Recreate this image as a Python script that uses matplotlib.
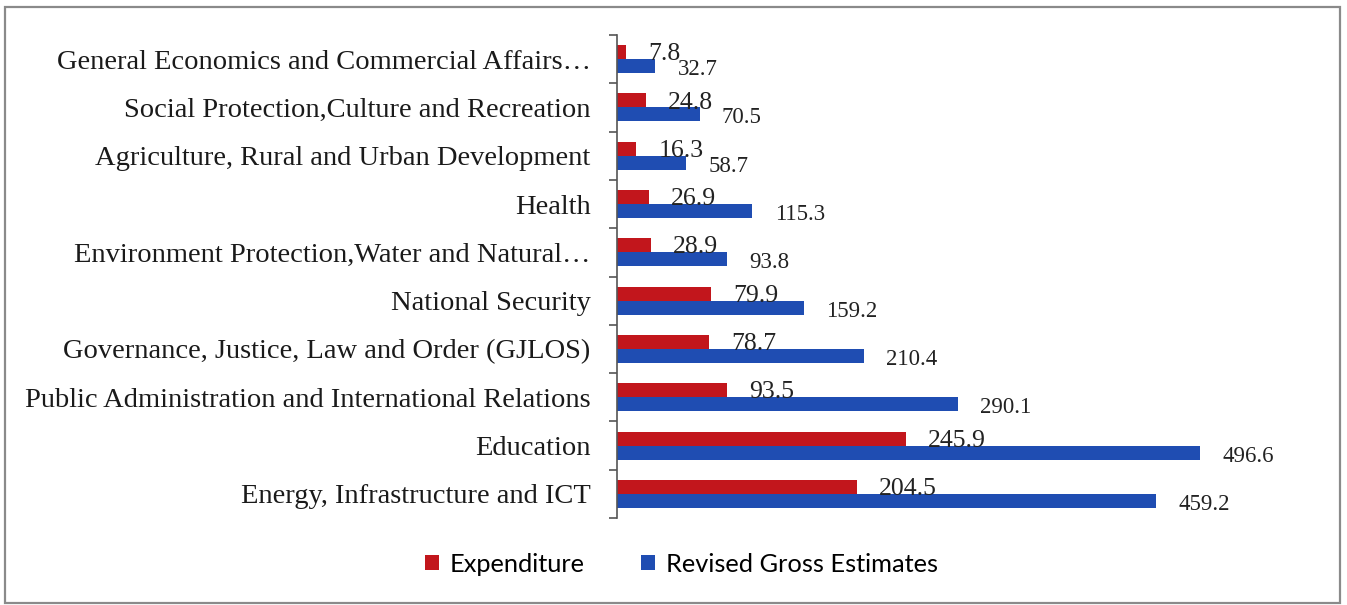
import matplotlib
matplotlib.use("Agg")
import matplotlib.pyplot as plt
import numpy as np
from matplotlib.patches import Patch, Rectangle

# Sector data, listed bottom to top as drawn on the y axis
sectors = [
    "Energy, Infrastructure and ICT",
    "Education",
    "Public Administration and International Relations",
    "Governance, Justice, Law and Order (GJLOS)",
    "National Security",
    "Environment Protection,Water and Natural\u2026",
    "Health",
    "Agriculture, Rural and Urban Development",
    "Social Protection,Culture and Recreation",
    "General Economics and Commercial Affairs\u2026",
]
expenditure = [204.5, 245.9, 93.5, 78.7, 79.9, 28.9, 26.9, 16.3, 24.8, 7.8]
revised_gross = [459.2, 496.6, 290.1, 210.4, 159.2, 93.8, 115.3, 58.7, 70.5, 32.7]

RED = "#C2161C"
BLUE = "#1F4DB2"
SERIF = "Liberation Serif"

W, H = 1347, 605
fig = plt.figure(figsize=(W / 100, H / 100), dpi=100)

# plot area placed in pixel terms
left_px, right_px, top_px, bottom_px = 617, 1300, 35, 518
ax = fig.add_axes([left_px / W, 1 - bottom_px / H,
                   (right_px - left_px) / W, (bottom_px - top_px) / H])

y = np.arange(len(sectors))
bar_h = 0.29
off = 0.145
ax.barh(y + off, expenditure, height=bar_h, color=RED, label="Expenditure")
ax.barh(y - off, revised_gross, height=bar_h, color=BLUE, label="Revised Gross Estimates")

for yi, v in zip(y, expenditure):
    ax.annotate(f"{v:.1f}", (v, yi + off), xytext=(16, -1.5), textcoords="offset points",
                ha="left", va="center", fontsize=18.5, family=SERIF, color="#222222")
for yi, v in zip(y, revised_gross):
    ax.annotate(f"{v:.1f}", (v, yi - off), xytext=(16, -2.5), textcoords="offset points",
                ha="left", va="center", fontsize=16.5, family=SERIF, color="#222222")

ax.set_xlim(0, (right_px - left_px) / 1.174)
ax.set_ylim(-0.5, len(sectors) - 0.5)

ax.set_yticks(y)
ax.set_yticklabels(sectors, family=SERIF, fontsize=20.5, color="#1a1a1a")
ax.tick_params(axis="y", which="major", length=0, pad=19)
ax.set_yticks(np.arange(-0.5, len(sectors)), minor=True)
ax.tick_params(axis="y", which="minor", length=6, width=1.2, color="#555555")
ax.set_xticks([])

for side in ("top", "right", "bottom"):
    ax.spines[side].set_visible(False)
ax.spines["left"].set_color("#555555")
ax.spines["left"].set_linewidth(1.2)

handles = [Patch(facecolor=RED), Patch(facecolor=BLUE)]
fig.legend(handles, ["Expenditure", "Revised Gross Estimates"],
           loc="center", bbox_to_anchor=(0.506, 1 - 564 / H), ncol=2, frameon=False,
           prop={"family": "Lato", "size": 18.3}, handlelength=0.55, handleheight=0.55,
           handletextpad=0.45, columnspacing=2.2)

# outer frame around the whole chart
fig.add_artist(Rectangle((5 / W, 1 - 603 / H), 1335 / W, 596 / H,
                         transform=fig.transFigure, fill=False,
                         edgecolor="#8a8a8a", linewidth=1.6))

fig.savefig("out.png", dpi=100, facecolor="white")
